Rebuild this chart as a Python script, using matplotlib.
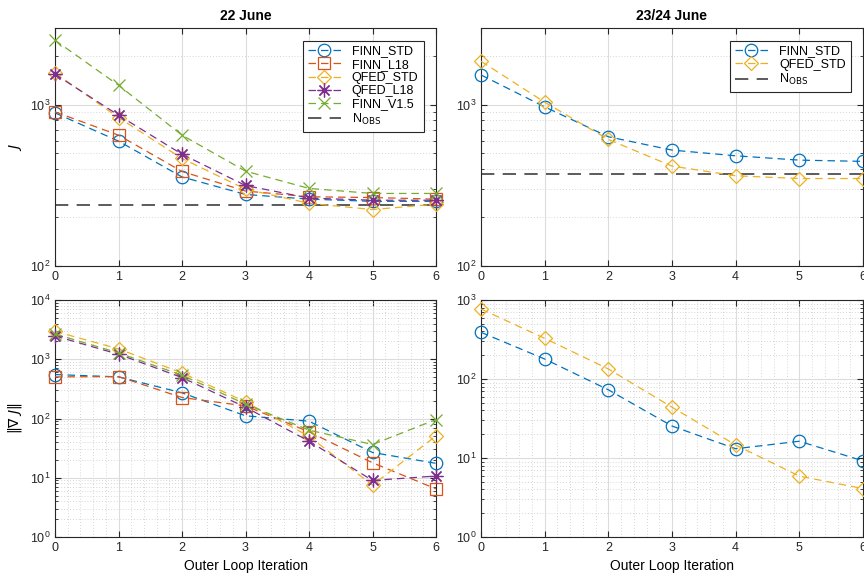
import matplotlib
matplotlib.use('Agg')
import matplotlib.pyplot as plt
import numpy as np
from matplotlib.ticker import LogLocator, MultipleLocator, NullFormatter, FixedLocator

plt.rcParams['font.family'] = ['Liberation Sans', 'DejaVu Sans']
plt.rcParams['font.size'] = 9

iters = [0, 1, 2, 3, 4, 5, 6]

# 22 June cost function J
j22_finn_std = [892, 596, 357, 278, 260, 252, 252]
j22_finn_l18 = [905, 649, 386, 292, 269, 266, 260]
j22_qfed_std = [1578, 834, 465, 300, 245, 224, 242]
j22_qfed_l18 = [1549, 863, 494, 316, 264, 256, 256]
j22_finn_v15 = [2518, 1324, 649, 388, 303, 282, 282]
nobs_22 = 240

# 23/24 June cost function J
j23_finn_std = [1534, 972, 634, 524, 483, 454, 446]
j23_qfed_std = [1865, 1039, 610, 417, 363, 349, 349]
nobs_23 = 370

# 22 June gradient norm
g22_finn_std = [552, 504, 271, 111, 90, 26.7, 17.5]
g22_finn_l18 = [504, 510, 226, 163, 59.6, 17.9, 6.5]
g22_qfed_std = [2963, 1494, 589, 191, 50, 7.5, 51]
g22_qfed_l18 = [2473, 1214, 491, 155, 41.5, 9.0, 10.7]
g22_finn_v15 = [2672, 1279, 537, 175, 63.6, 36.4, 96]

# 23/24 June gradient norm
g23_finn_std = [390, 179, 73, 25.4, 13.1, 16.3, 9.2]
g23_qfed_std = [770, 327, 134, 44, 14.6, 5.9, 4.1]

names = ['FINN_STD', 'FINN_L18', 'QFED_STD', 'QFED_L18', 'FINN_V1.5']
colors = {'FINN_STD': '#0072BD', 'FINN_L18': '#D95319', 'QFED_STD': '#EDB120',
          'QFED_L18': '#7E2F8E', 'FINN_V1.5': '#77AC30'}
# MATLAB-like markers; (8, 2, 0) is an 8-spoke asterisk
markers = {'FINN_STD': 'o', 'FINN_L18': 's', 'QFED_STD': 'D', 'QFED_L18': (8, 2, 0), 'FINN_V1.5': 'x'}
msizes = {'FINN_STD': 9, 'FINN_L18': 8, 'QFED_STD': 7, 'QFED_L18': 10, 'FINN_V1.5': 8}


def draw(ax, series):
    for name, vals in series:
        ax.plot(iters, vals, linestyle=(0, (6, 4)), lw=0.9, color=colors[name],
                marker=markers[name], ms=msizes[name], mfc='none',
                mec=colors[name], mew=0.9, label=name, clip_on=False, zorder=3)


def style(ax, ylim, minor_x=False):
    ax.set_yscale('log')
    ax.set_xlim(0, 6)
    ax.set_ylim(*ylim)
    ax.xaxis.set_major_locator(FixedLocator(iters))
    ax.yaxis.set_major_locator(LogLocator(base=10, numticks=10))
    ax.yaxis.set_minor_locator(LogLocator(base=10, subs=np.arange(2, 10), numticks=10))
    ax.yaxis.set_minor_formatter(NullFormatter())
    ax.grid(True, which='major', color='#dcdcdc', lw=0.8, zorder=0)
    ax.grid(True, which='minor', axis='y', color='#c8c8c8', lw=0.6, linestyle=(0, (1, 2.5)))
    if minor_x:
        ax.xaxis.set_minor_locator(MultipleLocator(0.2))
        ax.grid(True, which='minor', axis='x', color='#c8c8c8', lw=0.6, linestyle=(0, (1, 2.5)))
    ax.set_axisbelow(True)
    ax.tick_params(which='both', direction='in', top=True, right=True, colors='#262626',
                   labelcolor='#262626', labelsize=9)
    ax.tick_params(which='major', length=4)
    ax.tick_params(which='minor', length=2)
    ax.tick_params(axis='x', which='minor', length=0)
    for s in ax.spines.values():
        s.set_color('#262626')
        s.set_linewidth(0.8)


fig = plt.figure(figsize=(8.64, 5.75), dpi=100)
ax1 = fig.add_axes([55 / 864, 1 - 266 / 575, 381 / 864, 238 / 575])
ax2 = fig.add_axes([481 / 864, 1 - 266 / 575, 382 / 864, 238 / 575])
ax3 = fig.add_axes([55 / 864, 1 - 537 / 575, 381 / 864, 237 / 575])
ax4 = fig.add_axes([481 / 864, 1 - 537 / 575, 382 / 864, 237 / 575])

draw(ax1, zip(names, [j22_finn_std, j22_finn_l18, j22_qfed_std, j22_qfed_l18, j22_finn_v15]))
ax1.axhline(nobs_22, color='#404040', lw=1.2, linestyle=(0, (8, 5)), label=r'N$_{\mathrm{OBS}}$', zorder=2)
style(ax1, (100, 3000))
ax1.set_title('22 June', fontweight='bold', fontsize=10)
ax1.set_ylabel(r'$J$', fontsize=10)

draw(ax2, zip(['FINN_STD', 'QFED_STD'], [j23_finn_std, j23_qfed_std]))
ax2.axhline(nobs_23, color='#404040', lw=1.2, linestyle=(0, (8, 5)), label=r'N$_{\mathrm{OBS}}$', zorder=2)
style(ax2, (100, 3000))
ax2.set_title('23/24 June', fontweight='bold', fontsize=10)

draw(ax3, zip(names, [g22_finn_std, g22_finn_l18, g22_qfed_std, g22_qfed_l18, g22_finn_v15]))
style(ax3, (1, 10000), minor_x=True)
ax3.set_ylabel(r'$\|\nabla\ J\|$', fontsize=10)
ax3.set_xlabel('Outer Loop Iteration', fontsize=10)

draw(ax4, zip(['FINN_STD', 'QFED_STD'], [g23_finn_std, g23_qfed_std]))
style(ax4, (1, 1000), minor_x=True)
ax4.set_xlabel('Outer Loop Iteration', fontsize=10)

for ax in (ax1, ax2):
    leg = ax.legend(loc='upper right', fontsize=9, fancybox=False, framealpha=1,
                    edgecolor='#262626', borderpad=0.4, labelspacing=0.1, handlelength=2.6,
                    handletextpad=0.9, borderaxespad=1.0)
    leg.get_frame().set_linewidth(0.8)

fig.savefig('out.png', dpi=100)
